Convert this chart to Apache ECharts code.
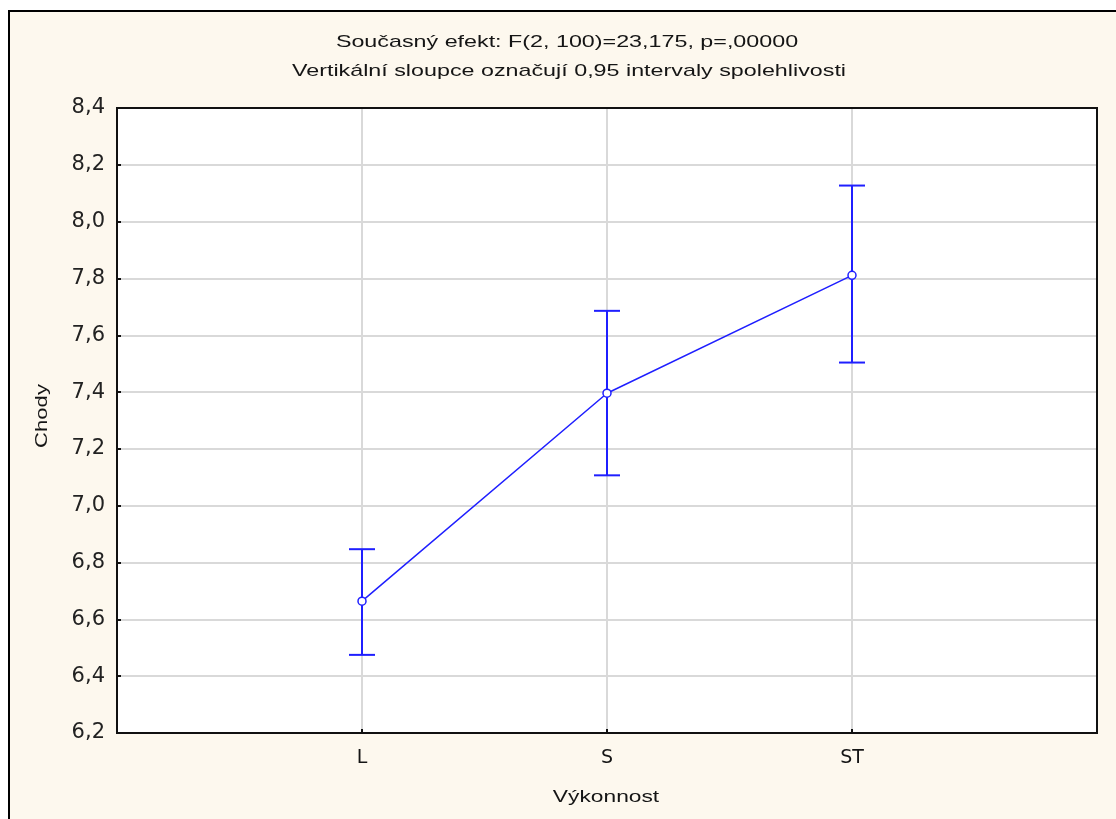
<!DOCTYPE html>
<html><head><meta charset="utf-8">
<script src="https://cdn.jsdelivr.net/npm/echarts@6/dist/echarts.min.js"></script>
<style>html,body{margin:0;padding:0;background:#fff}#c{width:1116px;height:819px}</style>
</head><body><div id="c"></div>
<script>
const categories = ['L', 'S', 'ST'];
const means = [6.664, 7.396, 7.811];
const lower = [6.475, 7.107, 7.504];
const upper = [6.847, 7.686, 8.127];
const titleLine1 = 'Současný efekt: F(2, 100)=23,175, p=,00000';
const titleLine2 = 'Vertikální sloupce označují 0,95 intervaly spolehlivosti';
const yName = 'Chody';
const xName = 'Výkonnost';

const FONT = 'Liberation Sans';
const BLUE = '#1f1fff';
const TXT = '#151515';
const chart = echarts.init(document.getElementById('c'), null, {renderer: 'canvas'});

const meanData = means.map((m, i) => [i + 1, m]);
const errData = means.map((m, i) => [i + 1, lower[i], upper[i]]);

function label(text, x, y, size, sx, rot) {
  return {type: 'text', x: x, y: y, z: 20, scaleX: sx, rotation: rot || 0,
    style: {text: text, fontFamily: FONT, fontSize: size, fill: TXT,
            align: 'center', verticalAlign: 'middle'}};
}

chart.setOption({
  backgroundColor: '#ffffff',
  animation: false,
  graphic: [
    {type: 'rect', z: -10, shape: {x: 9, y: 11, width: 1130, height: 830},
     style: {fill: '#fdf8ee', stroke: '#000', lineWidth: 2}},
    {type: 'rect', z: 30, shape: {x: 117, y: 108, width: 980, height: 625},
     style: {fill: 'none', stroke: '#111', lineWidth: 2}},
    label(titleLine1, 567, 42, 17, 1.37),
    label(titleLine2, 569, 71, 17, 1.37),
    label(xName, 606, 797, 17, 1.34),
    label(yName, 42, 416, 17, 1.3, Math.PI / 2)
  ],
  grid: {left: 117, top: 108, width: 980, height: 625, show: true,
         backgroundColor: '#ffffff', borderWidth: 0},
  xAxis: {
    type: 'value', min: 0, max: 4, interval: 1,
    axisLine: {show: false},
    axisTick: {show: true, inside: true, length: 4, lineStyle: {color: '#111', width: 2}},
    axisLabel: {fontFamily: 'DejaVu Sans', fontSize: 19, color: TXT, margin: 16,
      formatter: v => (v >= 1 && v <= categories.length) ? categories[v - 1] : ''},
    splitLine: {show: true, lineStyle: {color: '#d9d9d9', width: 2}}
  },
  yAxis: {
    type: 'value', min: 6.2, max: 8.4, interval: 0.2,
    axisLine: {show: false},
    axisTick: {show: true, inside: true, length: 4, lineStyle: {color: '#111', width: 2}},
    axisLabel: {fontFamily: 'DejaVu Sans', fontSize: 21, color: '#222', margin: 12,
      formatter: v => v.toFixed(1).replace('.', ',')},
    splitLine: {show: true, lineStyle: {color: '#d9d9d9', width: 2}}
  },
  series: [
    {
      type: 'custom', z: 3,
      data: errData,
      renderItem: function (params, api) {
        const x = api.value(0);
        const lo = api.coord([x, api.value(1)]);
        const hi = api.coord([x, api.value(2)]);
        const hw = 13;
        const st = {stroke: BLUE, lineWidth: 2};
        return {type: 'group', children: [
          {type: 'line', shape: {x1: lo[0], y1: lo[1], x2: hi[0], y2: hi[1]}, style: st},
          {type: 'line', shape: {x1: lo[0] - hw, y1: lo[1], x2: lo[0] + hw, y2: lo[1]}, style: st},
          {type: 'line', shape: {x1: hi[0] - hw, y1: hi[1], x2: hi[0] + hw, y2: hi[1]}, style: st}
        ]};
      }
    },
    {
      type: 'line', z: 4, data: meanData,
      symbol: 'circle', symbolSize: 8,
      itemStyle: {color: '#ffffff', borderColor: BLUE, borderWidth: 1.5},
      lineStyle: {color: BLUE, width: 1.5}
    }
  ]
});
</script></body></html>
